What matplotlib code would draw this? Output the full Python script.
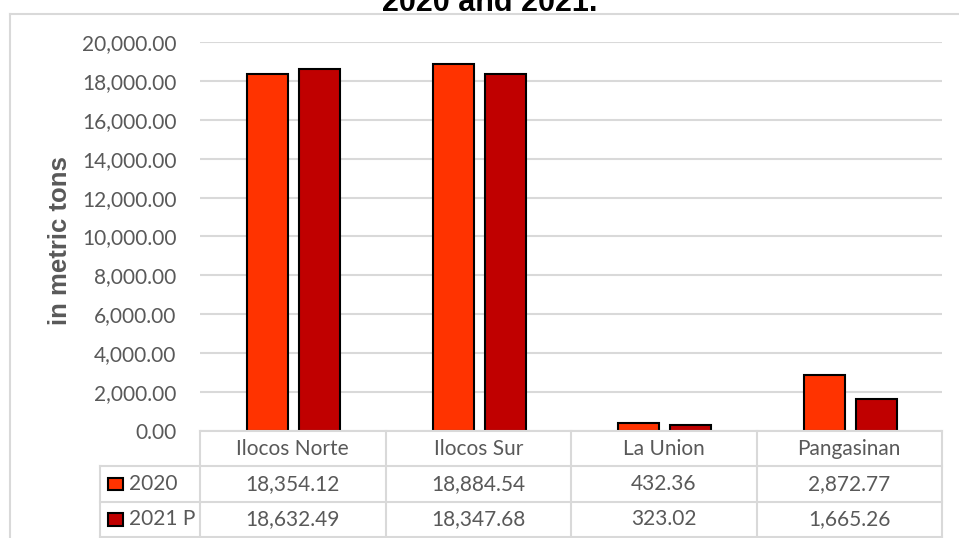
import matplotlib.pyplot as plt
from matplotlib.patches import Rectangle

provinces = ['Ilocos Norte', 'Ilocos Sur', 'La Union', 'Pangasinan']
series = ['2020', '2021 P']
vals_2020 = [18354.12, 18884.54, 432.36, 2872.77]
vals_2021 = [18632.49, 18347.68, 323.02, 1665.26]
colors = ['#FF3300', '#C00000']
title = '2020 and 2021.'
ylabel = 'in metric tons'

W, H = 959, 538
grey = '#595959'
line_c = '#D9D9D9'
tfont = 'Lato'


def fx(px):
    return px / W


def fy(py):
    return 1 - py / H


fig = plt.figure(figsize=(W / 100, H / 100), dpi=100)

# outer chart border (left + top only visible)
fig.add_artist(plt.Line2D([fx(10), fx(10)], [fy(14), 0], color=line_c, lw=1.5))
fig.add_artist(plt.Line2D([fx(10), 1], [fy(14), fy(14)], color=line_c, lw=1.5))

fig.text(fx(490), fy(11), title, ha='center', va='baseline', fontsize=22,
         fontweight='bold', family='Liberation Sans', color='black')

# bar area
x0, x1, ytop, ybot = 200, 942, 42, 431
ax = fig.add_axes([fx(x0), fy(ybot), fx(x1 - x0), (ybot - ytop) / H])
colw = (x1 - x0) / 4.0
ax.set_xlim(-0.5, 3.5)
ax.set_ylim(0, 20000)
ax.set_yticks(range(0, 20001, 2000))
ax.set_yticklabels(['{:,.2f}'.format(v) for v in range(0, 20001, 2000)],
                   color=grey, fontsize=15, family=tfont)
ax.tick_params(axis='y', length=0, pad=17)
ax.set_xticks([])
for s in ax.spines.values():
    s.set_visible(False)
ax.grid(axis='y', color=line_c, lw=1.5)
ax.set_axisbelow(True)

bw = 0.22
offs = [-0.135, 0.145]
for vals, c, o in zip([vals_2020, vals_2021], colors, offs):
    ax.bar([i + o for i in range(len(provinces))], vals, width=bw, color=c,
           edgecolor='black', lw=1.5, zorder=3)

ax.set_ylabel(ylabel, fontsize=18.5, fontweight='bold', color=grey,
              family='Liberation Sans')
ax.yaxis.set_label_coords((72 - x0) / (x1 - x0), 0.49)

# data table
tl = 100
tb = 537
tax = fig.add_axes([fx(tl), fy(tb), fx(x1 - tl), (tb - ybot) / H])
lx = -0.5 - (x0 - tl) / colw
tax.set_xlim(lx, 3.5)
tax.set_ylim(0, 3)
tax.axis('off')

lk = dict(color=line_c, lw=1.5, clip_on=False)
tax.plot([-0.5, 3.5], [3, 3], **lk)
for yy in [2, 1, 0]:
    tax.plot([lx, 3.5], [yy, yy], **lk)
tax.plot([lx, lx], [0, 2], **lk)
for xx in [-0.5, 0.5, 1.5, 2.5, 3.5]:
    tax.plot([xx, xx], [0, 3], **lk)

for i, p in enumerate(provinces):
    tax.text(i, 2.5, p, ha='center', va='center', fontsize=15, color=grey,
             family=tfont)
rows = [vals_2020, vals_2021]
for r, (name, vals, c) in enumerate(zip(series, rows, colors)):
    yc = 1.5 - r
    kx = -0.5 - (x0 - 108) / colw
    tax.add_patch(Rectangle((kx, yc - 0.18), 15 / colw, 0.36, facecolor=c,
                            edgecolor='black', lw=1.5, clip_on=False))
    tax.text(-0.5 - (x0 - 129) / colw, yc, name, ha='left', va='center',
             fontsize=15, color=grey, family=tfont)
    for i, v in enumerate(vals):
        tax.text(i, yc, '{:,.2f}'.format(v), ha='center', va='center',
                 fontsize=15, color=grey, family=tfont)

fig.savefig('out.png', dpi=100)
